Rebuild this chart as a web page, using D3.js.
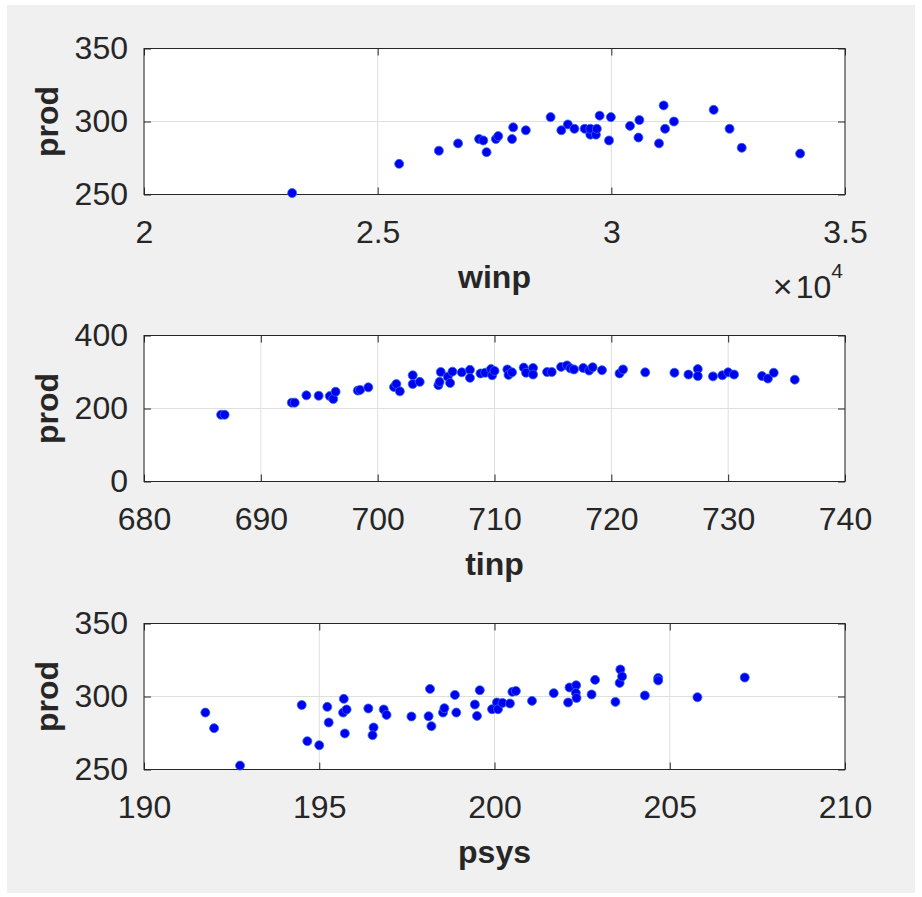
<!DOCTYPE html>
<html>
<head>
<meta charset="utf-8">
<script src="https://cdn.jsdelivr.net/npm/d3@7"></script>
<style>
  body { margin: 0; background: #fff; }
  text { font-family: "Liberation Sans", Arial, Helvetica, sans-serif; fill: #262626; }
</style>
</head>
<body>
<div id="chart"></div>
<script>
// panel 1: winp vs prod
const winp = [23170, 25460, 26310, 26720, 27170, 27260, 27330, 27530, 27580, 27875, 27900, 28170,
  28700, 28930, 29070, 29210, 29430, 29550, 29550, 29670, 29690, 29750, 29950, 29990, 30400, 30600,
  30580, 31020, 31120, 31150, 31340, 32190, 32530, 32790, 34040];
const prodW = [251, 271, 280, 285, 288, 287, 279, 288, 290, 288, 296, 294,
  303, 294, 298, 295, 295, 291, 295, 291, 295, 304, 287, 303, 297, 301,
  289, 285, 311, 295, 300, 308, 295, 282, 278];

// panel 2: tinp vs prod
const tinp = [686.6, 686.9, 692.65, 692.9, 693.9, 694.95, 695.9, 696.2, 696.4, 698.3, 698.5, 699.2,
  701.4, 701.6, 701.9, 703.0, 703.0, 703.6, 705.2, 705.3, 705.4, 706.0, 706.2, 706.4, 707.2, 707.9,
  707.9, 708.8, 709.2, 709.7, 709.8, 710.0, 711.1, 711.2, 711.5, 712.5, 712.7, 713.3, 713.3, 714.5,
  714.9, 715.7, 716.2, 716.5, 716.8, 717.6, 718.1, 718.4, 719.2, 720.7, 721.0, 722.9, 725.4, 726.6,
  727.4, 727.4, 728.7, 729.5, 730.0, 730.5, 732.9, 733.4, 733.9, 735.7];
const prodT = [183, 183, 216, 216, 236, 235, 234, 226, 246, 249, 251, 258,
  259, 267, 247, 291, 267, 273, 264, 273, 300, 287, 270, 301, 299, 306,
  284, 296, 298, 308, 291, 303, 307, 292, 299, 312, 298, 311, 293, 300,
  300, 314, 318, 310, 307, 311, 304, 313, 305, 296, 307, 299, 298, 293,
  308, 289, 288, 291, 299, 293, 289, 282, 298, 279];

// panel 3: psys vs prod
const psys = [191.75, 192.0, 192.74, 194.5, 194.66, 195.0, 195.23, 195.27, 195.7, 195.68, 195.78, 195.73,
  196.4, 196.55, 196.52, 196.84, 196.92, 197.63, 198.12, 198.16, 198.2, 198.53, 198.57, 198.87, 198.91,
  199.44, 199.5, 199.58, 199.93, 200.07, 200.1, 200.23, 200.44, 200.51, 200.61, 201.07, 201.69, 202.1,
  202.14, 202.33, 202.32, 202.34, 202.77, 202.87, 203.45, 203.57, 203.59, 203.64, 204.29, 204.67,
  204.67, 205.79, 207.14];
const prodP = [289, 278.3, 252.7, 294.2, 269.4, 266.6, 292.9, 282.2, 298.4, 289, 291.1, 274.7,
  291.8, 278.8, 273.5, 291.1, 287.4, 286.3, 286.5, 305.2, 279.7, 289, 292, 301.1, 289,
  294.5, 286.7, 304.3, 291.3, 295.9, 291.3, 295.6, 295.2, 303.2, 303.8, 297, 302.3, 295.9,
  306.2, 307.7, 302.5, 299, 301.4, 311.4, 296.3, 309.3, 318.5, 313.7, 300.7, 312.7,
  311, 299.5, 313];

// tick values
const winpTicks = [20000, 25000, 30000, 35000];
const tinpTicks = [680, 690, 700, 710, 720, 730, 740];
const psysTicks = [190, 195, 200, 205, 210];
const prodTicks1 = [250, 300, 350];
const prodTicks2 = [0, 200, 400];

const width = 922, height = 897;
const left = 144, right = 845, plotH = 146;

const svg = d3.select("#chart").append("svg")
  .attr("width", width)
  .attr("height", height);

// grey figure background
svg.append("rect")
  .attr("x", 7).attr("y", 5)
  .attr("width", 908).attr("height", 888)
  .attr("fill", "#f0f0f0");

function drawPanel(top, xs, ys, xDom, yDom, xTicks, yTicks, xFmt, xLabel) {
  const x = d3.scaleLinear().domain(xDom).range([left, right]);
  const y = d3.scaleLinear().domain(yDom).range([top + plotH, top]);
  const g = svg.append("g");

  g.append("rect")
    .attr("x", left).attr("y", top)
    .attr("width", right - left).attr("height", plotH)
    .attr("fill", "#fff");

  // grid
  g.selectAll(".vgrid").data(xTicks).join("line")
    .attr("x1", d => x(d)).attr("x2", d => x(d))
    .attr("y1", top).attr("y2", top + plotH)
    .attr("stroke", "#dfdfdf").attr("stroke-width", 1);
  g.selectAll(".hgrid").data(yTicks).join("line")
    .attr("y1", d => y(d)).attr("y2", d => y(d))
    .attr("x1", left).attr("x2", right)
    .attr("stroke", "#dfdfdf").attr("stroke-width", 1);

  // axes, ticks pointing inward
  g.append("g")
    .attr("transform", `translate(0,${top + plotH})`)
    .call(d3.axisBottom(x).tickValues(xTicks).tickSize(-7).tickPadding(26).tickFormat(xFmt));
  g.append("g")
    .attr("transform", `translate(${left},0)`)
    .call(d3.axisLeft(y).tickValues(yTicks).tickSize(-7).tickPadding(16));
  g.append("g")
    .attr("transform", `translate(0,${top})`)
    .call(d3.axisTop(x).tickValues(xTicks).tickSize(-7).tickFormat(""));
  g.append("g")
    .attr("transform", `translate(${right},0)`)
    .call(d3.axisRight(y).tickValues(yTicks).tickSize(-7).tickFormat(""));

  g.selectAll(".domain").remove();
  g.selectAll(".tick line").attr("stroke", "#262626");
  g.selectAll(".tick text")
    .style("font-size", "32px")
    .style("font-family", "'Liberation Sans', Arial, sans-serif")
    .attr("fill", "#262626");

  // box
  g.append("rect")
    .attr("x", left).attr("y", top)
    .attr("width", right - left).attr("height", plotH)
    .attr("fill", "none")
    .attr("stroke", "#262626").attr("stroke-width", 1);

  // points
  g.selectAll(".pt").data(xs.map((d, i) => [d, ys[i]])).join("circle")
    .attr("cx", d => x(d[0]))
    .attr("cy", d => y(d[1]))
    .attr("r", 4.5)
    .attr("fill", "#0000f0")
    .attr("stroke", "#2a6be6")
    .attr("stroke-width", 0.8);

  // labels
  g.append("text")
    .attr("x", (left + right) / 2)
    .attr("y", top + plotH + 93)
    .attr("text-anchor", "middle")
    .attr("font-size", "32px")
    .attr("font-weight", "bold")
    .text(xLabel);

  g.append("text")
    .attr("transform", `translate(58,${top + plotH / 2}) rotate(-90)`)
    .attr("text-anchor", "middle")
    .attr("font-size", "32px")
    .attr("font-weight", "bold")
    .text("prod");
}

drawPanel(48.5, winp, prodW, [20000, 35000], [250, 350], winpTicks, prodTicks1, d => d3.format("")(d / 1e4), "winp");
drawPanel(335.5, tinp, prodT, [680, 740], [0, 400], tinpTicks, prodTicks2, d => d, "tinp");
drawPanel(623.5, psys, prodP, [190, 210], [250, 350], psysTicks, prodTicks1, d => d, "psys");

// exponent label for the first x axis
const expo = svg.append("text")
  .attr("x", 843)
  .attr("y", 298)
  .attr("text-anchor", "end")
  .attr("font-size", "32px");
expo.append("tspan").attr("font-size", "34px").attr("font-weight", "300").text("\u00d7");
expo.append("tspan").attr("dx", 3).text("10");
expo.append("tspan").attr("font-size", "21px").attr("dy", -20).text("4");
</script>
</body>
</html>
